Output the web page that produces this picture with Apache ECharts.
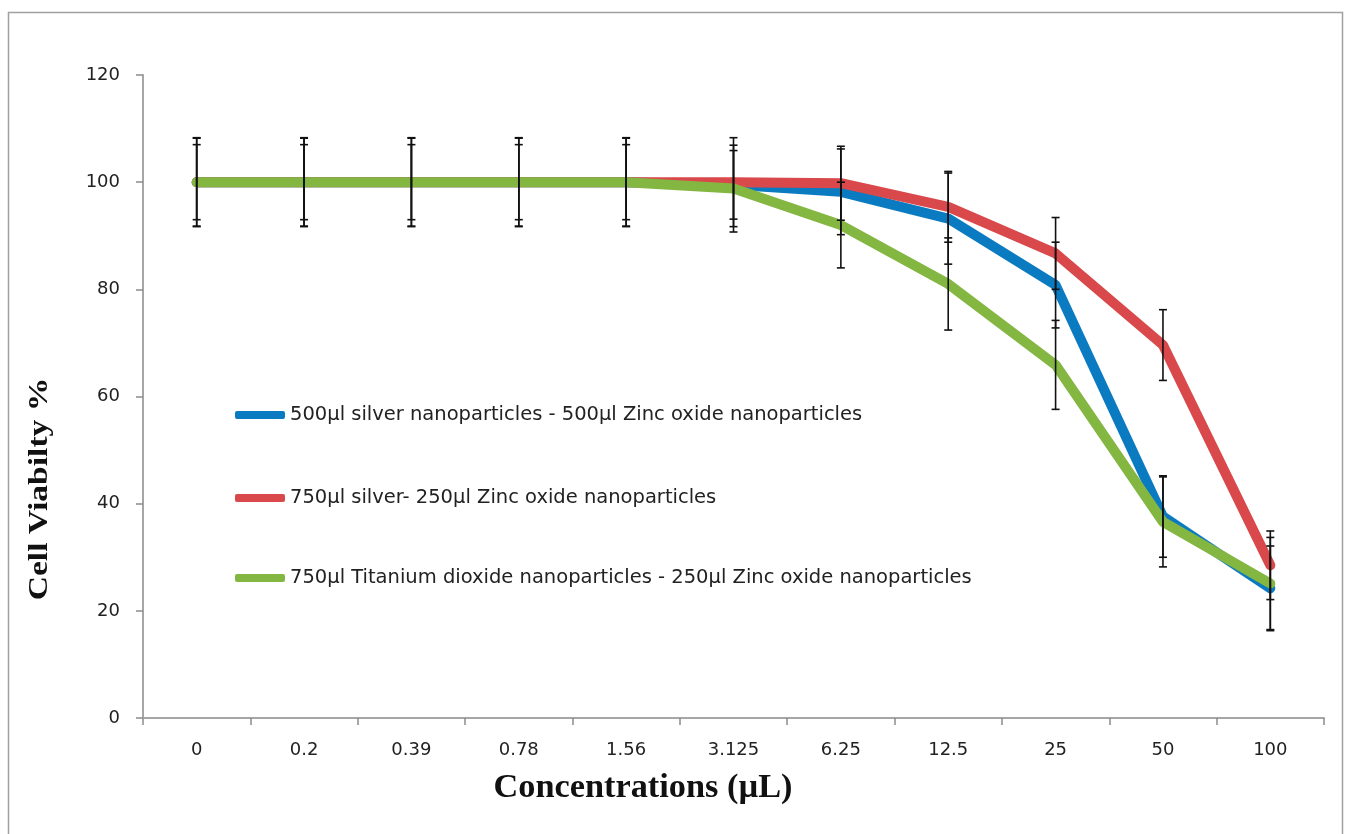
<!DOCTYPE html>
<html>
<head>
<meta charset="utf-8">
<script src="https://cdn.jsdelivr.net/npm/echarts@6/dist/echarts.min.js"></script>
<style>
  html, body { margin: 0; padding: 0; background: #fff; }
  #chart { width: 1346px; height: 834px; }
</style>
</head>
<body>
<div id="chart"></div>
<script>
// Concentrations tested (µL)
var categories = ['0', '0.2', '0.39', '0.78', '1.56', '3.125', '6.25', '12.5', '25', '50', '100'];

var seriesNames = [
  '500µl silver nanoparticles - 500µl Zinc oxide nanoparticles',
  '750µl silver- 250µl Zinc oxide nanoparticles',
  '750µl Titanium dioxide nanoparticles - 250µl Zinc oxide nanoparticles'
];

// Mean cell viability (%)
var silver500 = [100, 100, 100, 100, 100, 99.5, 98.2, 93.2, 80.8, 37.6, 24.2];
var silver750 = [100, 100, 100, 100, 100, 100, 99.8, 95.4, 86.7, 69.6, 28.5];
var titanium750 = [100, 100, 100, 100, 100, 98.8, 92.0, 81.0, 65.9, 36.6, 25.1];

// Standard deviation (±)
var silver500Err = [7, 7, 7, 7, 7, 6.4, 8, 8.5, 8, 7.6, 7.9];
var silver750Err = [8.3, 8.3, 8.3, 8.3, 8.3, 8.3, 6.9, 6.6, 6.7, 6.6, 6.4];
var titanium750Err = [8.2, 8.2, 8.2, 8.2, 8.2, 8.1, 8, 8.6, 8.3, 8.4, 8.6];

var yTicks = { min: 0, max: 120, interval: 20 };

var colors = ['#0b7bc1', '#d9484a', '#84b642'];
var means = [silver500, silver750, titanium750];
var errs = [silver500Err, silver750Err, titanium750Err];

function errorData(m, e) {
  return m.map(function (v, i) { return [i, v - e[i], v + e[i]]; });
}

function renderErrorBar(params, api) {
  var x = api.value(0);
  var lo = api.coord([x, api.value(1)]);
  var hi = api.coord([x, api.value(2)]);
  var half = 4;
  var style = { stroke: '#111', lineWidth: 1.6 };
  return {
    type: 'group',
    children: [
      { type: 'line', shape: { x1: hi[0], y1: hi[1], x2: lo[0], y2: lo[1] }, style: style },
      { type: 'line', shape: { x1: hi[0] - half, y1: hi[1], x2: hi[0] + half, y2: hi[1] }, style: style },
      { type: 'line', shape: { x1: lo[0] - half, y1: lo[1], x2: lo[0] + half, y2: lo[1] }, style: style }
    ]
  };
}

var series = [];
means.forEach(function (m, k) {
  series.push({
    name: seriesNames[k],
    type: 'line',
    data: m,
    symbol: 'none',
    z: 2 + k,
    lineStyle: { color: colors[k], width: 10, cap: 'round', join: 'round' },
    itemStyle: { color: colors[k] }
  });
});
means.forEach(function (m, k) {
  series.push({
    type: 'custom',
    renderItem: renderErrorBar,
    data: errorData(m, errs[k]),
    encode: { x: 0, y: [1, 2] },
    z: 10,
    silent: true
  });
});

var legendFont = { fontFamily: 'DejaVu Sans', fontSize: 19.5, color: '#222' };
var legendTops = [405, 488, 568];
var legends = seriesNames.map(function (n, k) {
  return {
    data: [{ name: n, icon: 'roundRect' }],
    left: 235,
    top: legendTops[k],
    padding: 0,
    itemWidth: 50,
    itemHeight: 8,
    textStyle: legendFont,
    selectedMode: false
  };
});

var tickFont = { fontFamily: 'DejaVu Sans', fontSize: 18, color: '#222' };

var chart = echarts.init(document.getElementById('chart'), null, { renderer: 'canvas' });
chart.setOption({
  animation: false,
  backgroundColor: '#fff',
  grid: { left: 143, right: 22, top: 75, bottom: 116, containLabel: false },
  legend: legends,
  xAxis: {
    type: 'category',
    data: categories,
    boundaryGap: true,
    axisLine: { lineStyle: { color: '#a6a6a6', width: 2 } },
    axisTick: { show: true, length: 7, lineStyle: { color: '#8c8c8c', width: 1.5 } },
    axisLabel: Object.assign({ margin: 23 }, tickFont),
    splitLine: { show: false }
  },
  yAxis: {
    type: 'value',
    min: yTicks.min,
    max: yTicks.max,
    interval: yTicks.interval,
    axisLine: { show: true, lineStyle: { color: '#a6a6a6', width: 2 } },
    axisTick: { show: true, length: 7, lineStyle: { color: '#8c8c8c', width: 1.5 } },
    axisLabel: Object.assign({ margin: 23 }, tickFont),
    splitLine: { show: false }
  },
  graphic: [
    {
      type: 'rect',
      shape: { x: 8.5, y: 12.5, width: 1334, height: 840 },
      style: { fill: null, stroke: '#a0a0a0', lineWidth: 1.5 },
      silent: true
    },
    {
      type: 'text',
      x: 40, y: 489,
      rotation: Math.PI / 2,
      scaleX: 1.2,
      style: {
        text: 'Cell Viabilty %',
        font: 'bold 28px "Liberation Serif"',
        fill: '#111',
        align: 'center',
        verticalAlign: 'middle'
      }
    },
    {
      type: 'text',
      x: 643, y: 788,
      scaleX: 1.04,
      style: {
        text: 'Concentrations (µL)',
        font: 'bold 33px "Liberation Serif"',
        fill: '#111',
        align: 'center',
        verticalAlign: 'middle'
      }
    }
  ],
  series: series
});
</script>
</body>
</html>
